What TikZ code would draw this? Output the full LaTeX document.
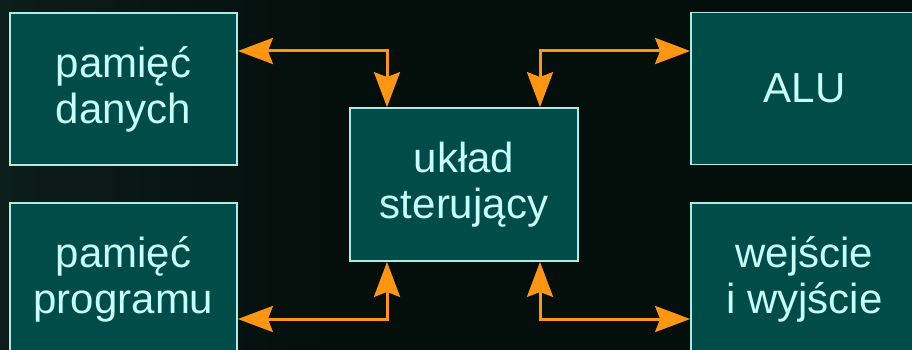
\documentclass[tikz,border=0pt]{standalone}
\usepackage{fontspec}
\setmainfont{Liberation Sans}
\usetikzlibrary{arrows.meta}
\definecolor{bg}{RGB}{4,14,11}
\definecolor{bgglow}{RGB}{12,30,26}
\definecolor{boxfill}{RGB}{0,76,72}
\definecolor{boxline}{RGB}{175,235,228}
\definecolor{boxtext}{RGB}{200,255,250}
\definecolor{wire}{RGB}{255,150,18}

\begin{document}
\begin{tikzpicture}[x=1pt, y=-1pt,
  unit/.style={draw=boxline, line width=1.8pt, fill=boxfill, text=boxtext,
               minimum width=227pt, minimum height=152pt, align=center, inner sep=0pt,
               font=\fontsize{42}{46}\selectfont},
  bus/.style={{Stealth[length=35pt, width=26pt, inset=5pt]}-{Stealth[length=35pt, width=26pt, inset=5pt]},
              draw=wire, line width=3pt}
]
  % dark backdrop, a little lighter on the left
  \fill[bg] (0,0) rectangle (912,350);
  \shade[left color=bgglow, right color=bg] (0,0) rectangle (340,350);
  \useasboundingbox (0,0) rectangle (912,350);

  \node[unit] (dane) at (123.5,89) {pamięć\\danych};
  \node[unit] (prog) at (123.5,279) {pamięć\\programu};
  \node[unit] (alu) at (804.5,88.5) {ALU};
  \node[unit] (io) at (804.5,279) {wejście\\i wyjście};
  \node[unit, minimum width=228pt, minimum height=153pt] (uklad) at (464,184.5) {układ\\sterujący};

  % bend points of the buses
  \coordinate (tl) at (387,51);
  \coordinate (tr) at (540,51);
  \coordinate (bl) at (387,319);
  \coordinate (br) at (540,319);

  \draw[bus] (dane.east |- tl) -| (uklad.north -| tl);
  \draw[bus] (uklad.north -| tr) |- (alu.west |- tr);
  \draw[bus] (prog.east |- bl) -| (uklad.south -| bl);
  \draw[bus] (uklad.south -| br) |- (io.west |- br);
\end{tikzpicture}
\end{document}
